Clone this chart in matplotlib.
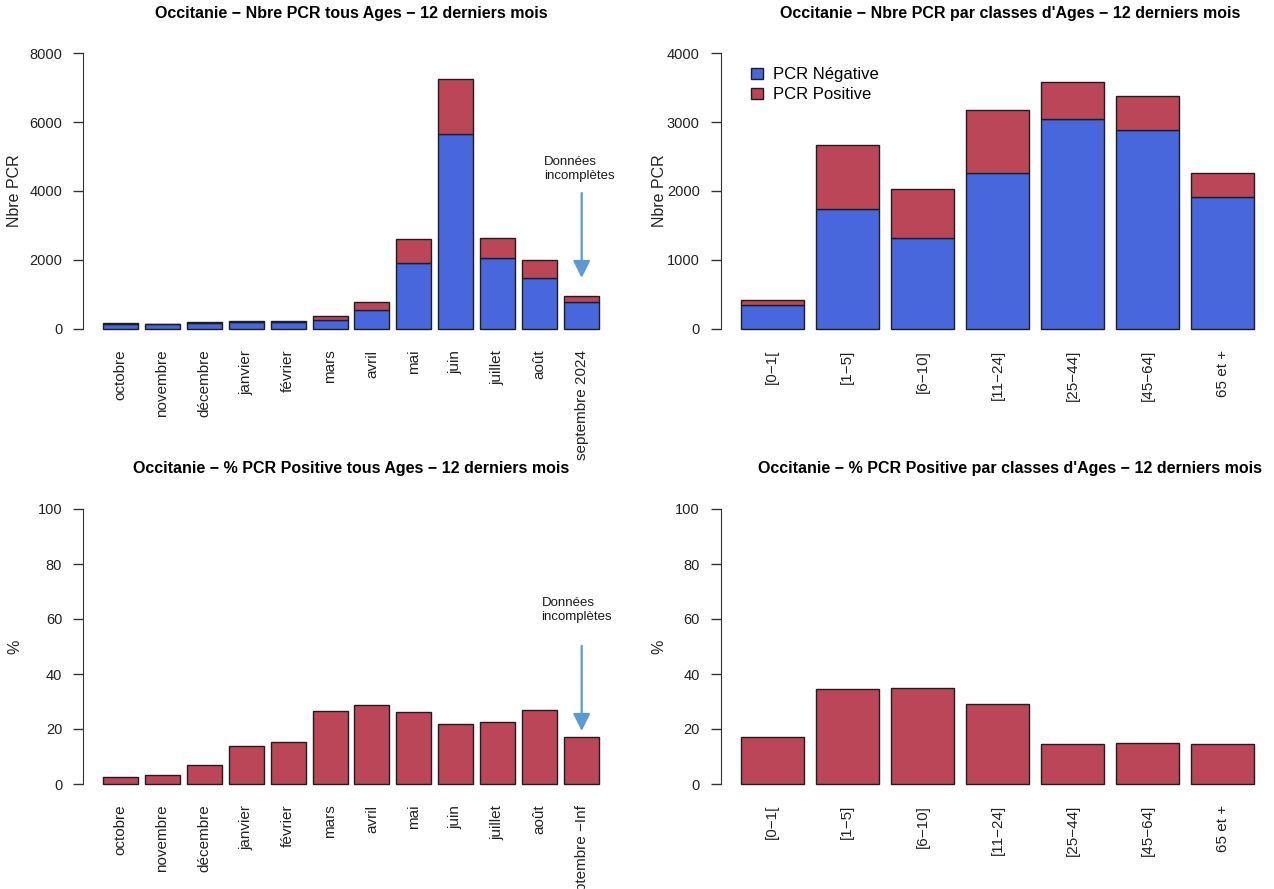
import numpy as np
import matplotlib
matplotlib.use("Agg")
import matplotlib.pyplot as plt
from matplotlib.patches import Patch

plt.rcParams["font.family"] = ["Liberation Sans", "DejaVu Sans"]

# data
mois = ["octobre", "novembre", "décembre", "janvier", "février", "mars",
        "avril", "mai", "juin", "juillet", "août", "septembre 2024"]
mois_pct = mois[:-1] + ["septembre \u2212Inf"]
pcr_neg_mois = [156, 150, 179, 209, 206, 270, 553, 1925, 5657, 2054, 1469, 794]
pcr_pos_mois = [4, 5, 14, 33, 36, 97, 221, 676, 1577, 596, 543, 163]
pct_pos_mois = [2.6, 3.4, 7.0, 13.7, 15.2, 26.5, 28.7, 26.2, 21.8, 22.5, 27.0, 17.1]

ages = ["[0\u22121[", "[1\u22125]", "[6\u221210]", "[11\u221224]", "[25\u221244]", "[45\u221264]", "65 et +"]
pcr_neg_age = [345, 1741, 1325, 2254, 3047, 2888, 1920]
pcr_pos_age = [71, 924, 707, 924, 527, 493, 334]
pct_pos_age = [17.1, 34.4, 34.8, 29.2, 14.4, 14.8, 14.4]

BLUE = "#4867DC"
RED = "#BA4657"
EDGE = "#1e1e1e"
ARROW = "#5B9BD5"
TXT = "#222222"

W, H = 1274, 889
fig = plt.figure(figsize=(W / 100, H / 100), dpi=100)


def px_axes(left, right, top, bottom):
    return fig.add_axes([left / W, 1 - bottom / H, (right - left) / W, (bottom - top) / H])


def bar_pos(n):
    # R barplot layout: width 1, space 0.2
    x = 0.7 + 1.2 * np.arange(n)
    r = 1.2 * n - 0.2
    return x, (0.2 - 0.04 * r, 1.2 * n + 0.04 * r)


def style(ax, labels, ymax, ystep, ylabel, title, title_x=0.5, title_y=1.07, ylab_x=-0.114):
    x, xlim = bar_pos(len(labels))
    ax.set_xlim(*xlim)
    ax.set_ylim(-0.04 * ymax, 1.04 * ymax)
    for s in ["top", "right", "bottom"]:
        ax.spines[s].set_visible(False)
    ax.spines["left"].set_bounds(0, ymax)
    ax.spines["left"].set_color("#333333")
    ax.set_yticks(np.arange(0, ymax + 1, ystep))
    ax.tick_params(axis="y", length=7, width=1, color="#333333", pad=8,
                   labelsize=10.5, labelcolor=TXT)
    ax.set_xticks(x)
    ax.set_xticklabels(labels, rotation=90, va="top", ha="center")
    ax.tick_params(axis="x", length=0, pad=7, labelsize=11, labelcolor=TXT)
    ax.set_ylabel(ylabel, fontsize=11.5, color=TXT)
    ax.yaxis.set_label_coords(ylab_x, 0.5)
    ax.set_title(title, fontsize=11.5, fontweight="bold", x=title_x, y=title_y, pad=0)
    return x


# top left: number of PCR per month
ax1 = px_axes(83, 619, 42, 340)
x1 = style(ax1, mois, 8000, 2000, "Nbre PCR",
           "Occitanie \u2212 Nbre PCR tous Ages \u2212 12 derniers mois", title_y=1 + 24 / 298)
ax1.bar(x1, pcr_neg_mois, width=1, color=BLUE, edgecolor=EDGE, linewidth=1)
ax1.bar(x1, pcr_pos_mois, width=1, bottom=pcr_neg_mois, color=RED, edgecolor=EDGE, linewidth=1)
ax1.annotate("", xy=(x1[-1], 1480), xytext=(x1[-1], 3940),
             arrowprops=dict(arrowstyle="-|>", color=ARROW, lw=1.6, mutation_scale=26,
                             shrinkA=0, shrinkB=0))
ax1.text(x1[-1] - 1.08, 4640, "Données\nincomplètes", ha="left", va="center",
         fontsize=9.5, color="#1a1a1a", linespacing=1.25)

# top right: number of PCR per age class
ax2 = px_axes(720.5, 1274.5, 42, 340)
x2 = style(ax2, ages, 4000, 1000, "Nbre PCR",
           "Occitanie \u2212 Nbre PCR par classes d'Ages \u2212 12 derniers mois",
           title_x=0.523, title_y=1 + 24 / 298, ylab_x=-0.097)
ax2.bar(x2, pcr_neg_age, width=1, color=BLUE, edgecolor=EDGE, linewidth=1)
ax2.bar(x2, pcr_pos_age, width=1, bottom=pcr_neg_age, color=RED, edgecolor=EDGE, linewidth=1)
handles = [Patch(facecolor=BLUE, edgecolor=EDGE, label="PCR Négative"),
           Patch(facecolor=RED, edgecolor=EDGE, label="PCR Positive")]
ax2.legend(handles=handles, loc="upper left", bbox_to_anchor=(0.055, 0.915), frameon=False,
           fontsize=12, handlelength=0.7, handleheight=0.7, handletextpad=0.6,
           labelspacing=0.3, borderaxespad=0, borderpad=0)

# bottom left: % positive per month
ax3 = px_axes(83, 619, 498, 795)
x3 = style(ax3, mois_pct, 100, 20, "%",
           "Occitanie \u2212 % PCR Positive tous Ages \u2212 12 derniers mois", title_y=1 + 25 / 297)
ax3.bar(x3, pct_pos_mois, width=1, color=RED, edgecolor=EDGE, linewidth=1)
ax3.annotate("", xy=(x3[-1], 19.3), xytext=(x3[-1], 50.2),
             arrowprops=dict(arrowstyle="-|>", color=ARROW, lw=1.6, mutation_scale=26,
                             shrinkA=0, shrinkB=0))
ax3.text(x3[-1] - 1.15, 63.3, "Données\nincomplètes", ha="left", va="center",
         fontsize=9.5, color="#1a1a1a", linespacing=1.25)

# bottom right: % positive per age class
ax4 = px_axes(720.5, 1274.5, 498, 795)
x4 = style(ax4, ages, 100, 20, "%",
           "Occitanie \u2212 % PCR Positive par classes d'Ages \u2212 12 derniers mois",
           title_x=0.523, title_y=1 + 25 / 297, ylab_x=-0.097)
ax4.bar(x4, pct_pos_age, width=1, color=RED, edgecolor=EDGE, linewidth=1)

fig.savefig("out.png", dpi=100)
